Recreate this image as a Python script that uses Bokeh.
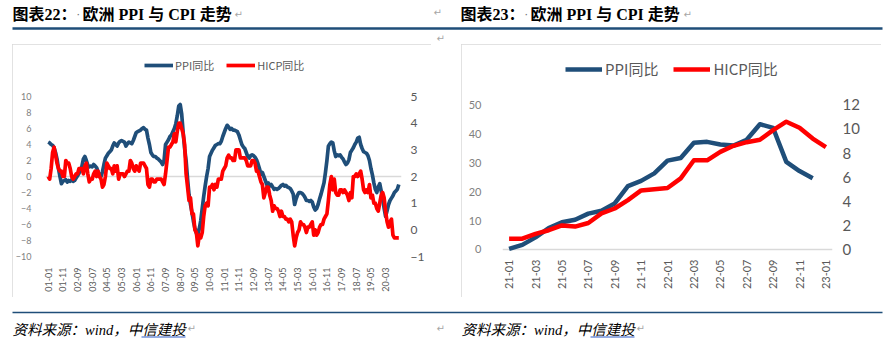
import math
from bokeh.plotting import figure
from bokeh.models import Range1d, LinearAxis, FixedTicker, Span, Legend, LegendItem, Spacer
from bokeh.layouts import column, row
from bokeh.embed import file_html
from bokeh.resources import INLINE
from bokeh.core.properties import value

BLUE = "#1F4E79"
RED = "#FF0000"

# ---------------- Chart 22 data (2001-01 .. 2020-12) ----------------
months_22 = ["%02d-%02d" % (y % 100, m) for y in range(2001, 2021) for m in range(1, 13)]
xticks_22 = ["01-01", "01-11", "02-09", "03-07", "04-05", "05-03", "06-01", "06-11",
             "07-09", "08-07", "09-05", "10-03", "11-01", "11-11", "12-09", "13-07",
             "14-05", "15-03", "16-01", "16-11", "17-09", "18-07", "19-05", "20-03"]
ppi_22 = [
    4.3, 4.2, 4.0, 3.9, 3.6, 3.0, 2.2, 1.0, 0.0, -0.9, -0.6, -0.5,
    -0.4, -0.7, -0.5, -0.6, -0.4, -0.6, -0.5, -0.2, 0.1, 0.4, 0.8, 1.3,
    2.2, 2.5, 2.0, 1.4, 1.2, 1.3, 1.2, 1.5, 1.3, 1.1, 0.6, 0.0,
    0.0, 0.6, 1.5, 2.3, 2.6, 2.9, 3.1, 3.3, 3.8, 4.2, 4.0, 3.8,
    4.2, 4.4, 4.5, 4.4, 4.3, 3.8, 4.1, 4.3, 4.2, 4.1, 4.5, 5.0,
    5.5, 5.6, 5.7, 5.8, 6.0, 6.1, 5.9, 5.8, 4.8, 4.0, 3.0, 2.7,
    2.5, 2.5, 2.3, 2.2, 2.0, 1.8, 1.5, 2.0, 4.0, 4.3, 4.6, 5.0,
    5.2, 5.6, 6.0, 6.6, 7.6, 8.8, 9.0, 7.8, 5.5, 3.5, 2.0, -0.3,
    -2.3, -3.5, -4.5, -5.6, -6.5, -7.1, -7.3, -6.5, -5.5, -4.0, -2.5, -1.2,
    0.0, 1.0, 2.5, 2.9, 3.3, 3.6, 3.9, 4.0, 4.1, 4.1, 4.4, 5.0,
    5.5, 6.0, 6.4, 6.2, 5.9, 6.0, 5.8, 5.8, 5.7, 5.6, 5.2, 4.6,
    4.0, 3.7, 3.5, 3.0, 2.5, 2.3, 2.6, 2.7, 2.6, 2.4, 2.1, 1.6,
    1.0, 0.3, 0.5, 0.0, -0.5, -1.0, -0.8, -1.2, -1.0, -1.3, -1.6, -1.5,
    -1.6, -1.5, -1.3, -1.1, -1.0, -1.2, -1.1, -1.3, -1.4, -1.5, -1.8, -2.2,
    -3.5, -2.8, -2.3, -2.0, -2.0, -2.1, -2.3, -2.6, -3.0, -3.0, -3.1, -3.0,
    -3.2, -3.8, -4.2, -4.0, -3.5, -2.8, -2.2, -1.5, -0.8, 0.5, 2.0, 3.8,
    4.1, 4.3, 4.2, 3.2, 2.5, 2.7, 2.6, 2.7, 2.4, 2.2, 1.8, 1.5,
    1.7, 2.1, 3.0, 3.3, 3.6, 4.0, 4.3, 4.8, 4.9, 4.0, 3.5, 3.1,
    3.0, 2.9, 2.6, 2.0, 1.0, 0.2, -0.8, -1.6, -2.0, -1.3, -0.9, -1.8,
    -2.8, -4.0, -5.0, -4.3, -3.5, -3.0, -2.7, -2.4, -2.0, -1.8, -1.6, -1.0,
]
hicp_22 = [
    2.0, 1.9, 2.3, 2.9, 3.1, 2.8, 2.5, 2.3, 2.2, 2.2, 2.0, 2.0,
    2.6, 2.5, 2.5, 2.3, 2.0, 1.9, 2.0, 2.1, 2.1, 2.3, 2.3, 2.3,
    2.1, 2.4, 2.5, 2.1, 1.8, 1.9, 1.9, 2.1, 2.2, 2.0, 2.2, 2.0,
    1.9, 1.6, 1.7, 2.0, 2.5, 2.4, 2.3, 2.3, 2.1, 2.4, 2.2, 2.4,
    1.9, 2.1, 2.1, 2.1, 2.0, 2.1, 2.2, 2.2, 2.6, 2.5, 2.3, 2.2,
    2.4, 2.3, 2.2, 2.5, 2.5, 2.5, 2.4, 2.3, 1.7, 1.6, 1.9, 1.9,
    1.8, 1.8, 1.9, 1.9, 1.9, 1.9, 1.8, 1.7, 2.1, 2.6, 3.1, 3.1,
    3.2, 3.3, 3.6, 3.3, 3.7, 4.0, 4.0, 3.8, 3.6, 3.2, 2.1, 1.6,
    1.1, 1.2, 0.6, 0.6, 0.0, -0.1, -0.6, -0.2, -0.3, -0.1, 0.5, 0.9,
    1.0, 0.9, 1.6, 1.6, 1.7, 1.5, 1.7, 1.6, 1.9, 1.9, 1.9, 2.2,
    2.3, 2.4, 2.7, 2.8, 2.7, 2.7, 2.6, 2.6, 3.0, 3.0, 3.0, 2.7,
    2.7, 2.7, 2.7, 2.6, 2.4, 2.4, 2.4, 2.6, 2.6, 2.5, 2.2, 2.2,
    2.0, 1.8, 1.7, 1.2, 1.4, 1.6, 1.6, 1.3, 1.1, 0.7, 0.9, 0.8,
    0.8, 0.7, 0.5, 0.7, 0.5, 0.5, 0.4, 0.4, 0.3, 0.4, 0.3, -0.2,
    -0.6, -0.3, -0.1, 0.0, 0.3, 0.2, 0.2, 0.1, -0.1, 0.1, 0.1, 0.2,
    0.3, -0.2, 0.0, -0.2, -0.1, 0.1, 0.2, 0.2, 0.4, 0.5, 0.6, 1.1,
    1.7, 2.0, 1.5, 1.9, 1.4, 1.3, 1.3, 1.5, 1.5, 1.4, 1.5, 1.4,
    1.3, 1.1, 1.4, 1.2, 2.0, 2.0, 2.1, 2.0, 2.1, 2.2, 1.9, 1.5,
    1.4, 1.5, 1.4, 1.7, 1.2, 1.3, 1.0, 1.0, 0.8, 0.7, 1.0, 1.3,
    1.4, 1.2, 0.7, 0.3, 0.1, 0.3, 0.4, -0.2, -0.3, -0.3, -0.3, -0.3,
]
left_ticks_22 = [-10, -8, -6, -4, -2, 0, 2, 4, 6, 8, 10]
right_ticks_22 = [-1, 0, 1, 2, 3, 4, 5]

# ---------------- Chart 23 data (2021-01 .. 2023-01) ----------------
months_23 = ["21-01", "21-02", "21-03", "21-04", "21-05", "21-06", "21-07", "21-08",
             "21-09", "21-10", "21-11", "21-12", "22-01", "22-02", "22-03", "22-04",
             "22-05", "22-06", "22-07", "22-08", "22-09", "22-10", "22-11", "22-12", "23-01"]
xticks_23 = ["21-01", "21-03", "21-05", "21-07", "21-09", "21-11", "22-01", "22-03",
             "22-05", "22-07", "22-09", "22-11", "23-01"]
ppi_23 = [0.2, 1.6, 4.2, 7.4, 9.4, 10.3, 12.4, 13.4, 15.9, 21.9, 23.7, 26.3,
          30.7, 31.6, 36.9, 37.2, 36.3, 35.9, 37.9, 43.3, 42.0, 30.3, 27.1, 24.6]
hicp_23 = [0.9, 0.9, 1.3, 1.6, 2.0, 1.9, 2.2, 3.0, 3.4, 4.1, 4.9, 5.0,
           5.1, 5.9, 7.4, 7.4, 8.1, 8.6, 8.9, 9.1, 9.9, 10.6, 10.1, 9.2, 8.5]
left_ticks_23 = [0, 10, 20, 30, 40, 50]
right_ticks_23 = [0, 2, 4, 6, 8, 10, 12]

title_heads = ["图表22：", "图表23："]
title_body = "欧洲 PPI 与 CPI 走势"
source = "资料来源：wind，中信建投"
legend_labels = ["PPI同比", "HICP同比"]

NUM_FONT = "Lato"
CJK_FONT = "Noto Sans CJK SC"
TITLE_FONT = "Liberation Serif, Noto Sans CJK SC"
BOX_STYLE = {"outline": "2px solid #d9d9d9", "outline-offset": "-2px"}


def style_axis(ax, size, color, standoff):
    ax.axis_line_color = None
    ax.major_tick_line_color = None
    ax.minor_tick_line_color = None
    ax.major_label_text_font_size = size
    ax.major_label_text_color = color
    ax.major_label_text_font = NUM_FONT
    ax.major_label_standoff = standoff


def make_chart(width, height, months, xticks, ppi, hicp, xr, lr, rr, lticks, rticks,
               borders, lw, sizes, leg):
    idx = list(range(len(months)))
    bl, br, bt, bb = borders
    p = figure(width=width, height=height, output_backend="svg", toolbar_location=None,
               x_range=Range1d(*xr), y_range=Range1d(*lr),
               min_border_left=bl, min_border_right=br, min_border_top=bt, min_border_bottom=bb,
               background_fill_color="white", border_fill_color="white")
    p.styles = BOX_STYLE
    p.outline_line_color = None
    p.grid.visible = False
    p.extra_y_ranges = {"r": Range1d(*rr)}

    # gray zero baseline of the left axis
    p.add_layout(Span(location=0, dimension="width", line_color="#d9d9d9", line_width=1.5,
                      level="underlay"))

    r1 = p.line(idx[:len(ppi)], ppi, line_color=BLUE, line_width=lw, line_join="round")
    r2 = p.line(idx[:len(hicp)], hicp, line_color=RED, line_width=lw, line_join="round",
                y_range_name="r")

    ly = p.yaxis[0]
    ly.ticker = FixedTicker(ticks=lticks)
    style_axis(ly, sizes["left"], "#7f7f7f", sizes["lstand"])

    ry = LinearAxis(y_range_name="r", ticker=FixedTicker(ticks=rticks))
    style_axis(ry, sizes["right"], "#595959", sizes["rstand"])
    p.add_layout(ry, "right")

    xa = p.xaxis[0]
    xa.ticker = FixedTicker(ticks=[months.index(t) for t in xticks])
    xa.major_label_overrides = {months.index(t): t for t in xticks}
    xa.major_label_orientation = math.pi / 2
    style_axis(xa, sizes["x"], "#595959", sizes["xstand"])

    legend = Legend(items=[LegendItem(label=legend_labels[0], renderers=[r1]),
                           LegendItem(label=legend_labels[1], renderers=[r2])],
                    orientation="horizontal", location=leg["loc"], padding=0, margin=0,
                    spacing=leg["spacing"], label_standoff=leg["standoff"],
                    glyph_width=leg["gw"], glyph_height=leg["h"], label_height=leg["h"],
                    border_line_color=None, background_fill_alpha=0,
                    label_text_font=CJK_FONT, label_text_font_size=leg["size"],
                    label_text_color="#595959", label_text_baseline="middle")
    p.add_layout(legend)
    return p


# Both frames span local y 8..212 (row aligns plot frames).
# Chart 22: 8px per unit on the left axis (-10 at frame bottom), frame extended upward for legend
p1 = make_chart(419, 253, months_22, xticks_22, ppi_22, hicp_22,
                (-1.84, 240.84), (-10, 15.5), (-1, 6.65), left_ticks_22, right_ticks_22,
                (32, 30, 8, 41), 3.7,
                {"left": "9px", "lstand": 8, "right": "12px", "rstand": 3, "x": "9px", "xstand": 5},
                {"loc": (99, 182), "spacing": 12, "standoff": 2, "gw": 29, "h": 18, "size": "11px"})

# Chart 23: 0..50 over 144.7px, zero 7px above the frame bottom
p2 = make_chart(420, 253, months_23, xticks_23, ppi_23, hicp_23,
                (-0.5, 24.5), (-2.419, 68.07), (-0.5805, 16.34), left_ticks_23, right_ticks_23,
                (41, 49, 8, 41), 4.5,
                {"left": "11px", "lstand": 15, "right": "15px", "rstand": 4, "x": "11px", "xstand": -3},
                {"loc": (63, 177), "spacing": 15, "standoff": 3, "gw": 37, "h": 20, "size": "15px"})

# ---------------- header ----------------
hdr = figure(width=885, height=44, x_range=Range1d(0, 885), y_range=Range1d(44, 0),
             x_axis_type=None, y_axis_type=None, output_backend="svg", toolbar_location=None,
             min_border=0, outline_line_color=None)
hdr.text(x=[12, 460], y=[14, 14], text=title_heads,
         text_font=value(TITLE_FONT), text_font_style="bold",
         text_font_size="16px", text_baseline="middle", text_color="#000000")
hdr.text(x=[82, 530], y=[14, 14], text=[title_body, title_body],
         text_font=value(TITLE_FONT), text_font_style="bold",
         text_font_size="16px", text_baseline="middle", text_color="#000000")
hdr.text(x=[76, 524], y=[14, 14], text=["·", "·"],
         text_font=value("DejaVu Sans"), text_font_size="11px", text_color="#707070",
         text_baseline="middle")
hdr.segment(x0=[12], y0=[28], x1=[882], y1=[28], line_color=BLUE, line_width=2.5)
hdr.text(x=[234, 433, 683, 436], y=[14, 12, 14, 38], text=["↵", "↵", "↵", "↵"],
         text_font=value("DejaVu Sans"), text_font_size="10px", text_color="#a6a6a6",
         text_baseline="middle")

# ---------------- footer ----------------
ftr = figure(width=885, height=41, x_range=Range1d(0, 885), y_range=Range1d(41, 0),
             x_axis_type=None, y_axis_type=None, output_backend="svg", toolbar_location=None,
             min_border=0, outline_line_color=None)
ftr.segment(x0=[12], y0=[15], x1=[882], y1=[15], line_color=BLUE, line_width=1.5)
ftr.text(x=[12, 461], y=[32, 32], text=[source, source],
         text_font=value(TITLE_FONT), text_font_style="italic",
         text_font_size="14.5px", text_baseline="middle", text_color="#000000")
ftr.segment(x0=[141, 590], y0=[39.5, 39.5], x1=[185, 634], y1=[39.5, 39.5],
            line_color="#2F5DC7", line_width=1.2)
ftr.text(x=[187, 436, 636], y=[31, 31, 31], text=["↵", "↵", "↵"],
         text_font=value("DejaVu Sans"), text_font_size="10px", text_color="#a6a6a6",
         text_baseline="middle")

layout = column(hdr,
                row(Spacer(width=12, height=253), p1, Spacer(width=30, height=253), p2),
                ftr)

with open("out.html", "w") as f:
    f.write(file_html(layout, INLINE))
